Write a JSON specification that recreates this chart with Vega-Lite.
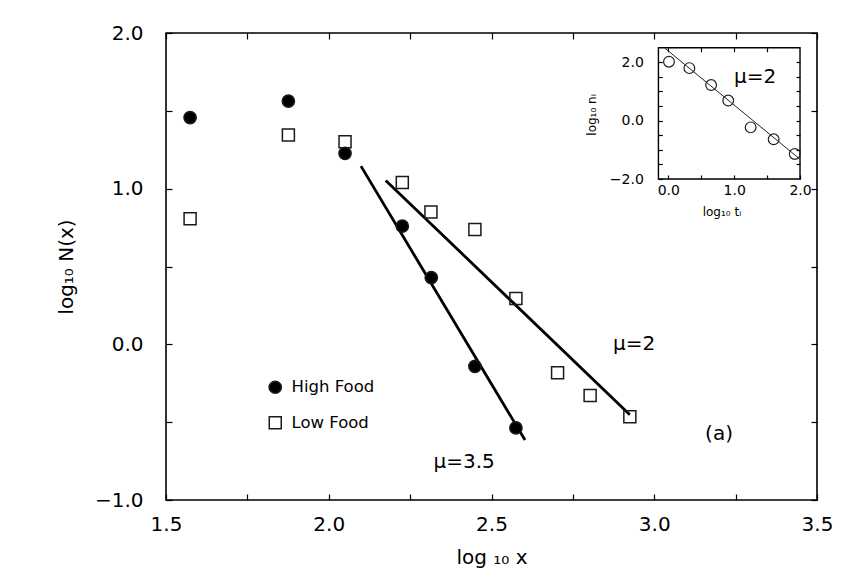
{
  "$schema": "https://vega.github.io/schema/vega-lite/v6.json",
  "width": 651,
  "height": 467,
  "autosize": {"type": "none"},
  "padding": {"left": 166, "top": 33, "right": 35, "bottom": 78},
  "background": "white",
  "datasets": {
    "points": [
      {"food": "Low Food", "x": 1.574, "y": 0.807},
      {"food": "Low Food", "x": 1.876, "y": 1.345},
      {"food": "Low Food", "x": 2.05, "y": 1.302},
      {"food": "Low Food", "x": 2.226, "y": 1.039},
      {"food": "Low Food", "x": 2.314, "y": 0.85},
      {"food": "Low Food", "x": 2.449, "y": 0.738},
      {"food": "Low Food", "x": 2.575, "y": 0.295},
      {"food": "Low Food", "x": 2.703, "y": -0.183},
      {"food": "Low Food", "x": 2.803, "y": -0.329},
      {"food": "Low Food", "x": 2.925, "y": -0.466},
      {"food": "High Food", "x": 1.574, "y": 1.457},
      {"food": "High Food", "x": 1.876, "y": 1.563},
      {"food": "High Food", "x": 2.05, "y": 1.227},
      {"food": "High Food", "x": 2.226, "y": 0.759},
      {"food": "High Food", "x": 2.315, "y": 0.428},
      {"food": "High Food", "x": 2.449, "y": -0.141},
      {"food": "High Food", "x": 2.575, "y": -0.537}
    ],
    "fits": [
      {"fit": "μ=3.5", "x": 2.099, "y": 1.145},
      {"fit": "μ=3.5", "x": 2.603, "y": -0.615},
      {"fit": "μ=2", "x": 2.175, "y": 1.053},
      {"fit": "μ=2", "x": 2.925, "y": -0.452}
    ],
    "notes": [
      {"x": 2.416, "y": -0.754, "text": "μ=3.5"},
      {"x": 2.938, "y": 0.0, "text": "μ=2"},
      {"x": 3.199, "y": -0.574, "text": "(a)"}
    ],
    "insetFrame": [{"x0": -0.15, "x1": 2.0, "y0": -2.0, "y1": 2.5}],
    "inset": [
      {"t": 0.01, "n": 2.02},
      {"t": 0.32, "n": 1.8},
      {"t": 0.65, "n": 1.22},
      {"t": 0.91, "n": 0.69},
      {"t": 1.25, "n": -0.23},
      {"t": 1.6, "n": -0.64},
      {"t": 1.92, "n": -1.14}
    ],
    "insetFit": [
      {"t": -0.05, "n": 2.48},
      {"t": 2.0, "n": -1.32}
    ],
    "insetText": [
      {"t": 1.317, "n": 1.48, "text": "μ=2", "role": "note"},
      {"t": 0.815, "n": -3.13, "text": "log₁₀ tᵢ", "role": "xtitle"},
      {"t": -1.159, "n": 0.195, "text": "log₁₀ nᵢ", "role": "ytitle"}
    ]
  },
  "layer": [
    {
      "layer": [
        {
          "data": {"name": "fits"},
          "mark": {"type": "line", "color": "black", "strokeWidth": 2.8},
          "encoding": {
            "x": {
              "field": "x", "type": "quantitative",
              "scale": {"domain": [1.5, 3.5], "nice": false, "zero": false},
              "axis": {
                "orient": "bottom",
                "values": [1.5, 1.75, 2, 2.25, 2.5, 2.75, 3, 3.25, 3.5],
                "labelExpr": "round(datum.value*4)%2===0 ? format(datum.value,'.1f') : ''",
                "tickSize": -6, "labelPadding": 20, "labelFontSize": 20,
                "title": "log ₁₀ x", "titleFontSize": 20, "titlePadding": 13
              }
            },
            "y": {
              "field": "y", "type": "quantitative",
              "scale": {"domain": [-1, 2], "nice": false, "zero": false},
              "axis": {
                "orient": "left",
                "values": [-1, -0.5, 0, 0.5, 1, 1.5, 2],
                "labelExpr": "round(datum.value*2)%2===0 ? format(datum.value,'.1f') : ''",
                "tickSize": -6, "labelPadding": 29, "labelFontSize": 20,
                "title": "log₁₀ N(x)", "titleFontSize": 20, "titlePadding": 18
              }
            },
            "detail": {"field": "fit"}
          }
        },
        {
          "data": {"name": "points"},
          "mark": {"type": "point", "filled": true, "stroke": "#1a1a1a", "strokeWidth": 1.5, "opacity": 1},
          "encoding": {
            "x": {"field": "x", "type": "quantitative"},
            "y": {"field": "y", "type": "quantitative"},
            "shape": {
              "field": "food", "type": "nominal",
              "scale": {"domain": ["High Food", "Low Food"], "range": ["circle", "square"]},
              "legend": {"orient": "none", "legendX": 101, "legendY": 346, "title": null, "labelFontSize": 16.5, "labelOffset": 8, "rowPadding": 16.5, "padding": 0, "encode": {"symbols": {"update": {"stroke": {"value": "#1a1a1a"}, "strokeWidth": {"value": 1.5}, "opacity": {"value": 1}}}}}
            },
            "fill": {
              "field": "food", "type": "nominal",
              "scale": {"domain": ["High Food", "Low Food"], "range": ["black", "transparent"]},
              "legend": {"orient": "none", "legendX": 101, "legendY": 346, "title": null, "labelFontSize": 16.5, "labelOffset": 8, "rowPadding": 16.5, "padding": 0, "encode": {"symbols": {"update": {"stroke": {"value": "#1a1a1a"}, "strokeWidth": {"value": 1.5}, "opacity": {"value": 1}}}}}
            },
            "size": {
              "field": "food", "type": "nominal",
              "scale": {"domain": ["High Food", "Low Food"], "range": [150, 144]},
              "legend": {"orient": "none", "legendX": 101, "legendY": 346, "title": null, "labelFontSize": 16.5, "labelOffset": 8, "rowPadding": 16.5, "padding": 0, "encode": {"symbols": {"update": {"stroke": {"value": "#1a1a1a"}, "strokeWidth": {"value": 1.5}, "opacity": {"value": 1}}}}}
            }
          }
        },
        {
          "data": {"name": "notes"},
          "mark": {"type": "text", "fontSize": 20, "align": "center", "baseline": "middle", "color": "black"},
          "encoding": {
            "x": {"field": "x", "type": "quantitative"},
            "y": {"field": "y", "type": "quantitative"},
            "text": {"field": "text"}
          }
        }
      ]
    },
    {
      "data": {"name": "notes"},
      "mark": {"type": "point", "opacity": 0},
      "encoding": {
        "x": {
          "datum": 2.5, "type": "quantitative",
          "scale": {"domain": [1.5, 3.5], "nice": false, "zero": false},
          "axis": {"orient": "top", "values": [1.5, 1.75, 2, 2.25, 2.5, 2.75, 3, 3.25, 3.5], "labels": false, "tickSize": -6, "title": null}
        },
        "y": {
          "datum": 0.5, "type": "quantitative",
          "scale": {"domain": [-1, 2], "nice": false, "zero": false},
          "axis": {"orient": "right", "values": [-1, -0.5, 0, 0.5, 1, 1.5, 2], "labels": false, "tickSize": -6, "title": null}
        }
      }
    },
    {
      "layer": [
        {
          "data": {"name": "insetFrame"},
          "mark": {"type": "rect", "fill": "white", "fillOpacity": 0, "stroke": "black", "strokeWidth": 1.4},
          "encoding": {
            "x": {
              "field": "x0", "type": "quantitative",
              "scale": {"domain": [-7.628, 2.258], "nice": false, "zero": false},
              "axis": {
                "orient": "bottom", "offset": -321,
                "values": [0, 0.5, 1, 1.5, 2],
                "labelExpr": "round(datum.value*2)%2===0 ? format(datum.value,'.1f') : ''",
                "tickSize": -4, "labelPadding": 8, "labelFontSize": 14, "title": null
              }
            },
            "x2": {"field": "x1"},
            "y": {
              "field": "y0", "type": "quantitative",
              "scale": {"domain": [-13.0, 3.004], "nice": false, "zero": false},
              "axis": {
                "orient": "left", "offset": -492.3,
                "values": [-2, -1.5, -1, -0.5, 0, 0.5, 1, 1.5, 2],
                "labelExpr": "round(datum.value*2)%4===0 ? format(datum.value,'.1f') : ''",
                "tickSize": -4, "labelPadding": 19, "labelFontSize": 14, "title": null
              }
            },
            "y2": {"field": "y1"}
          }
        },
        {
          "data": {"name": "insetFit"},
          "mark": {"type": "line", "color": "#222222", "strokeWidth": 1},
          "encoding": {
            "x": {"field": "t", "type": "quantitative"},
            "y": {"field": "n", "type": "quantitative"}
          }
        },
        {
          "data": {"name": "inset"},
          "mark": {"type": "point", "shape": "circle", "filled": false, "stroke": "#222222", "strokeWidth": 1.2, "size": 115, "opacity": 1},
          "encoding": {
            "x": {"field": "t", "type": "quantitative"},
            "y": {"field": "n", "type": "quantitative"}
          }
        },
        {
          "data": {"name": "insetText"},
          "transform": [{"filter": "datum.role === 'note'"}],
          "mark": {"type": "text", "fontSize": 20, "align": "center", "baseline": "middle", "color": "black"},
          "encoding": {
            "x": {"field": "t", "type": "quantitative"},
            "y": {"field": "n", "type": "quantitative"},
            "text": {"field": "text"}
          }
        },
        {
          "data": {"name": "insetText"},
          "transform": [{"filter": "datum.role === 'xtitle'"}],
          "mark": {"type": "text", "fontSize": 12, "align": "center", "baseline": "middle", "color": "black"},
          "encoding": {
            "x": {"field": "t", "type": "quantitative"},
            "y": {"field": "n", "type": "quantitative"},
            "text": {"field": "text"}
          }
        },
        {
          "data": {"name": "insetText"},
          "transform": [{"filter": "datum.role === 'ytitle'"}],
          "mark": {"type": "text", "fontSize": 12, "align": "center", "baseline": "middle", "angle": 270, "color": "black"},
          "encoding": {
            "x": {"field": "t", "type": "quantitative"},
            "y": {"field": "n", "type": "quantitative"},
            "text": {"field": "text"}
          }
        }
      ]
    },
    {
      "data": {"name": "insetFit"},
      "mark": {"type": "point", "opacity": 0},
      "encoding": {
        "x": {
          "datum": 1, "type": "quantitative",
          "scale": {"domain": [-7.628, 2.258], "nice": false, "zero": false},
          "axis": {"orient": "top", "offset": -14.7, "values": [0, 0.5, 1, 1.5], "labels": false, "tickSize": -4, "title": null}
        },
        "y": {
          "datum": 0, "type": "quantitative",
          "scale": {"domain": [-13.0, 3.004], "nice": false, "zero": false},
          "axis": {"orient": "right", "offset": -17, "values": [-1.5, -1, -0.5, 0, 0.5, 1, 1.5, 2], "labels": false, "tickSize": -4, "title": null}
        }
      }
    }
  ],
  "resolve": {
    "scale": {"x": "independent", "y": "independent"},
    "axis": {"x": "independent", "y": "independent"}
  },
  "config": {
    "font": "DejaVu Sans",
    "view": {"stroke": "black", "strokeWidth": 1.6},
    "axis": {
      "grid": false, "domain": false, "labelFlush": false, "labelOverlap": false,
      "tickColor": "black", "tickWidth": 1.2, "labelColor": "black", "titleColor": "black",
      "titleFontWeight": "normal", "labelFont": "DejaVu Sans", "titleFont": "DejaVu Sans"
    },
    "legend": {"labelFont": "DejaVu Sans", "labelColor": "black"},
    "text": {"font": "DejaVu Sans"}
  }
}
